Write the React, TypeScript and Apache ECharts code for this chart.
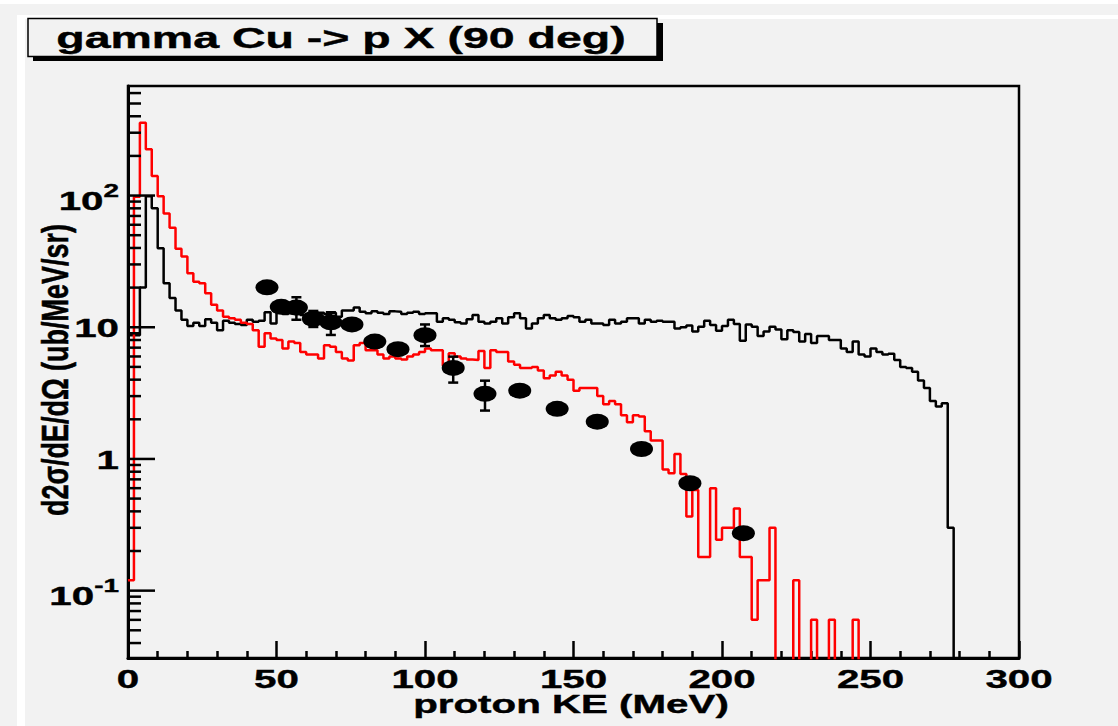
import React, { useEffect, useRef } from 'react';
import * as echarts from 'echarts';

// ---------------- data ----------------
const BIN_WIDTH = 2; // MeV per histogram bin, bins start at 0

// black histogram (model 1), bin i covers [2i, 2i+2] MeV
const blackHist = [
  8.7, 8.7, 20, 99, 80, 39.8, 21.6, 16.7, 13.4, 11.4,
  10.2, 10.8, 10.2, 11.5, 10.8, 9.5, 11.2, 10.8, 10.6, 10.4,
  11.4, 11.0, 11.2, 13.0, 10.7, 12.9, 12.6, 12.8, 12.6, 12.4,
  12.2, 12.4, 12.9, 12.6, 12.9, 12.0, 13.4, 13.4, 14.1, 13.1,
  12.8, 13.2, 12.9, 12.6, 13.2, 13.1, 12.6, 12.9, 13.1, 12.6,
  12.8, 12.8, 11.0, 11.7, 11.4, 10.9, 10.7, 11.5, 12.4, 11.0,
  10.7, 11.0, 11.7, 10.7, 11.9, 12.8, 11.7, 9.8, 10.7, 11.7,
  12.4, 11.7, 11.4, 11.7, 12.2, 11.9, 11.0, 11.4, 10.7, 10.7,
  10.4, 11.4, 10.7, 11.0, 11.7, 11.7, 10.7, 11.4, 11.0, 11.2,
  11.0, 11.0, 9.8, 10.0, 10.3, 9.3, 10.1, 11.2, 10.4, 9.4,
  10.2, 11.4, 10.6, 7.9, 10.5, 10.1, 8.6, 9.3, 10.1, 9.6,
  8.1, 9.5, 9.2, 7.8, 8.9, 7.6, 8.6, 8.6, 8.0, 8.0,
  6.9, 6.5, 7.8, 6.2, 6.0, 6.9, 6.5, 6.2, 6.3, 5.65,
  5.0, 4.9, 4.6, 3.95, 3.45, 2.75, 2.5, 2.65, 0.3, 0,
  0, 0, 0, 0, 0, 0, 0, 0, 0, 0,
];

// red histogram (model 2)
const redHist = [
  0.12, 98, 357, 225, 141, 99, 73, 57, 39.5, 34.4,
  25.7, 22.2, 21.6, 18.1, 14.8, 13.4, 12.0, 11.7, 11.4, 10.8,
  10.6, 9.5, 7.1, 9.0, 8.2, 8.0, 6.9, 7.8, 7.6, 6.5,
  6.2, 6.2, 5.8, 7.3, 7.1, 6.5, 5.8, 5.6, 7.3, 7.6,
  6.7, 6.7, 6.2, 5.8, 6.0, 5.8, 5.7, 6.0, 6.2, 6.5,
  6.9, 6.7, 6.7, 5.1, 6.35, 6.0, 5.8, 5.7, 5.65, 6.6,
  4.9, 6.7, 6.5, 6.5, 5.5, 5.2, 4.9, 4.9, 5.0, 4.7,
  4.1, 4.3, 4.6, 4.3, 4.0, 3.3, 3.45, 3.45, 3.45, 3.0,
  2.6, 2.75, 2.6, 2.15, 1.9, 2.15, 2.1, 1.62, 1.38, 1.38,
  0.83, 0.78, 1.09, 0.77, 0.365, 0.58, 0.18, 0.18, 0.6, 0.243,
  0.3, 0.3, 0.42, 0.18, 0.18, 0.06, 0.12, 0.12, 0.3, 0,
  0, 0, 0.12, 0, 0, 0.06, 0, 0, 0.06, 0,
  0, 0, 0.06, 0, 0, 0, 0, 0, 0, 0,
  0, 0, 0, 0, 0, 0, 0, 0, 0, 0,
  0, 0, 0, 0, 0, 0, 0, 0, 0, 0,
];

// measured points
const dataE = [46.8, 51.6, 56.7, 62.4, 68.3, 75.4, 83.1, 90.9, 100.0, 109.5, 120.2, 131.9, 144.5, 158.0, 172.9, 189.2, 207.2];
const dataV = [20.1, 14.3, 14.1, 11.6, 10.9, 10.5, 7.78, 6.82, 8.7, 4.91, 3.12, 3.3, 2.4, 1.92, 1.19, 0.654, 0.273];
const dataHi = [null, null, 16.9, 13.3, 13.0, null, null, null, 10.5, 5.98, 3.93, null, null, null, null, null, null];
const dataLo = [null, null, 11.4, 10.05, 8.74, null, null, null, 7.2, 3.8, 2.33, null, null, null, null, null, null];

// axes
const X_MIN = 0;
const X_MAX = 300;
const Y_MIN = 0.0308;
const Y_MAX = 679;
const xTickLabels = [0, 50, 100, 150, 200, 250, 300];
const yLabelValues = [0.1, 1, 10, 100];
const yLabelBase = ['10', '1', '10', '10'];
const yLabelExp = ['-1', '', '', '2'];
const yMajorTicks = [0.1, 1, 10, 100];
const yMinorTicks = [
  0.04, 0.05, 0.06, 0.07, 0.08, 0.09,
  0.2, 0.3, 0.4, 0.5, 0.6, 0.7, 0.8, 0.9,
  2, 3, 4, 5, 6, 7, 8, 9,
  20, 30, 40, 50, 60, 70, 80, 90,
  200, 300, 400, 500, 600,
];

const TITLE = 'gamma Cu -> p X (90 deg)';
const X_TITLE = 'proton KE (MeV)';
const Y_TITLE = 'd2σ/dE/dΩ (ub/MeV/sr)';

// ---------------- styling ----------------
const FAMILY = '"Liberation Sans", Arial, Helvetica, sans-serif';
const LABEL_FONT = `bold 26px ${FAMILY}`;
const EXP_FONT = `bold 18px ${FAMILY}`;
const STRETCH = 1.55;
const BG = '#f2f2f2';
const LW = 2.5;

function histPoints(vals: number[]) {
  const pts: number[][] = [];
  vals.forEach((v, i) => {
    const y = v > 0 ? v : 1e-4;
    pts.push([i * BIN_WIDTH, y], [(i + 1) * BIN_WIDTH, y]);
  });
  return pts;
}

let measureCtx: CanvasRenderingContext2D | null = null;
function measure(text: string, font: string) {
  if (!measureCtx) measureCtx = document.createElement('canvas').getContext('2d');
  if (!measureCtx) return text.length * 10;
  measureCtx.font = font;
  return measureCtx.measureText(text).width;
}

const ELLIPSE = 'path://M0,50A50,50 0 1,1 100,50A50,50 0 1,1 0,50Z';

export default function App() {
  const ref = useRef<HTMLDivElement>(null);

  useEffect(() => {
    if (!ref.current) return;
    const chart = echarts.init(ref.current, null, { renderer: 'svg' });

    const errIdx = dataE.map((_, i) => i).filter((i) => dataHi[i] != null && dataLo[i] != null);
    const textStyle = (text: string, font: string, align: string, vAlign: string) => ({
      text, font, fill: '#000', stroke: '#000', lineWidth: 0.4,
      textAlign: align, textVerticalAlign: vAlign, align, verticalAlign: vAlign,
    });

    const option: any = {
      animation: false,
      backgroundColor: BG,
      grid: {
        left: 128, top: 86, width: 891, height: 572,
        show: true, borderColor: '#000', borderWidth: 2.5, backgroundColor: 'transparent',
      },
      xAxis: {
        type: 'value', min: X_MIN, max: X_MAX, interval: 50,
        axisLine: { show: true, onZero: false, lineStyle: { color: '#000', width: 3 } },
        axisTick: { show: true, inside: true, length: 17, lineStyle: { color: '#000', width: LW } },
        minorTick: { show: true, splitNumber: 5, length: 7, lineStyle: { color: '#000', width: LW } },
        axisLabel: { show: false },
        splitLine: { show: false },
      },
      yAxis: {
        type: 'log', logBase: 10, min: Y_MIN, max: Y_MAX,
        axisLine: { show: true, lineStyle: { color: '#000', width: 3 } },
        axisTick: { show: false },
        axisLabel: { show: false },
        splitLine: { show: false },
      },
      graphic: [
        { type: 'rect', z: 0, shape: { x: 0, y: 0, width: 1118, height: 4 }, style: { fill: '#ffffff' } },
        { type: 'rect', z: 0, shape: { x: 17, y: 15, width: 8, height: 711 }, style: { fill: '#ffffff' } },
        { type: 'rect', z: 0, shape: { x: 17, y: 15, width: 1101, height: 4 }, style: { fill: '#ffffff' } },
        { type: 'rect', z: 10, shape: { x: 33, y: 23, width: 630, height: 38 }, style: { fill: '#000' } },
        { type: 'rect', z: 11, shape: { x: 28, y: 18.5, width: 629, height: 38 }, style: { fill: BG, stroke: '#000', lineWidth: 1.5 } },
        { type: 'text', z: 12, x: 341, y: 38, scaleX: STRETCH, style: textStyle(TITLE, `bold 30px ${FAMILY}`, 'center', 'middle') },
        { type: 'text', z: 12, x: 571, y: 704, scaleX: STRETCH, style: textStyle(X_TITLE, `bold 26px ${FAMILY}`, 'center', 'middle') },
        {
          type: 'text', z: 12, x: 55, y: 370, rotation: Math.PI / 2, scaleY: 1.4,
          style: textStyle(Y_TITLE, `bold 27px ${FAMILY}`, 'center', 'middle'),
        },
      ],
      series: [
        {
          name: 'model A', type: 'line', data: histPoints(blackHist), showSymbol: false, symbol: 'none',
          lineStyle: { color: '#000', width: LW }, clip: true, z: 3, silent: true,
        },
        {
          name: 'model B', type: 'line', data: histPoints(redHist), showSymbol: false, symbol: 'none',
          lineStyle: { color: '#ff0000', width: LW }, clip: true, z: 4, silent: true,
        },
        {
          name: 'error bars', type: 'custom', z: 5, silent: true, clip: false,
          data: errIdx.map((i) => [dataE[i], dataLo[i], dataHi[i]]),
          renderItem: (params: any, api: any) => {
            const x = api.value(0);
            const lo = api.coord([x, api.value(1)]);
            const hi = api.coord([x, api.value(2)]);
            const cap = 5;
            const st = { stroke: '#000', lineWidth: LW };
            return {
              type: 'group',
              children: [
                { type: 'line', shape: { x1: lo[0], y1: lo[1], x2: hi[0], y2: hi[1] }, style: st },
                { type: 'line', shape: { x1: lo[0] - cap, y1: lo[1], x2: lo[0] + cap, y2: lo[1] }, style: st },
                { type: 'line', shape: { x1: hi[0] - cap, y1: hi[1], x2: hi[0] + cap, y2: hi[1] }, style: st },
              ],
            };
          },
        },
        {
          name: 'data', type: 'scatter', z: 6, silent: true,
          data: dataE.map((e, i) => [e, dataV[i]]),
          symbol: ELLIPSE, symbolSize: [23, 16], symbolKeepAspect: false,
          itemStyle: { color: '#000', opacity: 1 },
        },
        {
          name: 'y ticks', type: 'custom', z: 7, silent: true, clip: false,
          data: [...yMajorTicks.map((v) => [X_MIN, v, 1]), ...yMinorTicks.map((v) => [X_MIN, v, 0])],
          renderItem: (params: any, api: any) => {
            const p = api.coord([X_MIN, api.value(1)]);
            const len = api.value(2) ? 27 : 13;
            return { type: 'line', shape: { x1: p[0], y1: p[1], x2: p[0] + len, y2: p[1] }, style: { stroke: '#000', lineWidth: LW } };
          },
        },
        {
          name: 'x labels', type: 'custom', z: 7, silent: true, clip: false,
          data: xTickLabels.map((v) => [v, Y_MIN]),
          renderItem: (params: any, api: any) => {
            const v = xTickLabels[params.dataIndex];
            const p = api.coord([v, Y_MIN]);
            return { type: 'text', x: p[0], y: p[1] + 8, scaleX: STRETCH, style: textStyle(String(v), LABEL_FONT, 'center', 'top') };
          },
        },
        {
          name: 'y labels', type: 'custom', z: 7, silent: true, clip: false,
          data: yLabelValues.map((v) => [X_MIN, v]),
          renderItem: (params: any, api: any) => {
            const i = params.dataIndex;
            const p = api.coord([X_MIN, yLabelValues[i]]);
            const right = p[0] - 9;
            const exp = yLabelExp[i];
            const children: any[] = [];
            if (exp) {
              const w = measure(exp, EXP_FONT) * STRETCH;
              children.push({ type: 'text', x: right, y: p[1] - 5, scaleX: STRETCH, style: textStyle(exp, EXP_FONT, 'right', 'middle') });
              children.push({ type: 'text', x: right - w, y: p[1] + 5, scaleX: STRETCH, style: textStyle(yLabelBase[i], LABEL_FONT, 'right', 'middle') });
            } else {
              children.push({ type: 'text', x: right, y: p[1] + 1, scaleX: STRETCH, style: textStyle(yLabelBase[i], LABEL_FONT, 'right', 'middle') });
            }
            return { type: 'group', children };
          },
        },
      ],
    };

    chart.setOption(option);
    return () => chart.dispose();
  }, []);

  return (
    <div style={{ position: 'fixed', left: 0, top: 0, width: 1118, height: 726, background: '#fff' }}>
      <div ref={ref} style={{ width: 1118, height: 726 }} />
    </div>
  );
}
